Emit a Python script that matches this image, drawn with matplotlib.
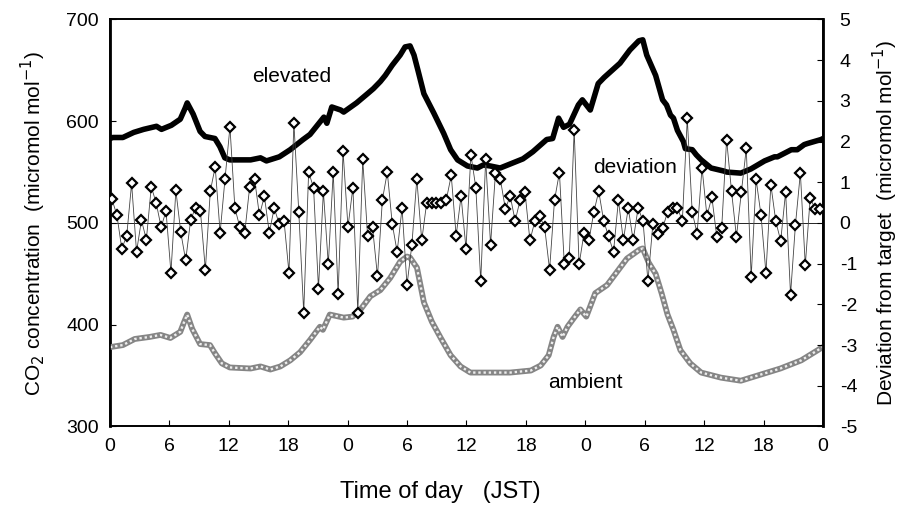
import numpy as np
import matplotlib
matplotlib.use("Agg")
import matplotlib.pyplot as plt

plt.rcParams['font.family'] = ['Liberation Sans', 'DejaVu Sans']
plt.rcParams['axes.unicode_minus'] = False

# Elevated CO2 (ppm) at time (h)
elev_t = [0.0, 0.3, 1.3, 2.4, 3.4, 4.7, 5.2, 6.2, 7.1, 7.6, 7.8, 8.4, 9.1, 9.6, 10.6,
          11.1, 11.6, 12.1, 14.2, 15.2, 15.8, 17.1, 18.2, 19.5, 20.2, 21.6, 21.9,
          22.4, 23.3, 23.6, 24.9, 26.0, 26.6, 27.3, 27.8, 28.5, 29.3, 29.8, 30.3,
          30.7, 31.1, 31.7, 32.7, 33.7, 34.4, 35.1, 36.1, 37.1, 37.7, 38.4, 39.4,
          41.7, 42.7, 44.1, 44.7, 45.3, 45.8, 46.4, 47.3, 47.7, 48.5, 49.3, 49.9,
          51.5, 52.5, 53.4, 53.8, 54.2, 55.1, 55.8, 56.2, 56.6, 56.9, 57.3, 57.9,
          58.1, 58.8, 59.2, 59.7, 60.7, 62.0, 62.3, 63.7, 64.7, 65.4, 66.1, 67.1,
          67.4, 68.8, 69.4, 70.1, 70.4, 71.8, 72.0]
elev_v = [583, 584, 584, 589, 592, 595, 592, 596, 602, 613, 618, 607, 590, 585, 583,
          575, 564, 562, 562, 564, 561, 565, 572, 582, 587, 604, 598,
          614, 611, 609, 618, 627, 632, 639, 645, 655, 665, 673, 674,
          665, 650, 627, 608, 588, 572, 562, 556, 554, 557, 556, 554,
          563, 570, 582, 583, 603, 594, 597, 616, 621, 611, 637, 643,
          657, 670, 679, 680, 665, 645, 621, 616, 606, 603, 591, 580,
          573, 572, 567, 562, 554, 551, 550, 549, 553, 557, 561, 565,
          565, 572, 572, 577, 578, 582, 583]

# Ambient CO2 (ppm) at time (h)
amb_t = [0.0, 1.3, 2.5, 4.0, 5.1, 6.1, 7.1, 7.5, 7.8, 8.3, 9.1, 10.1, 10.6, 11.3,
         12.1, 14.2, 15.2, 16.2, 17.2, 18.2, 19.2, 20.2, 21.2, 21.5, 22.2, 23.6,
         24.5, 25.3, 26.3, 27.3, 28.3, 29.3, 30.0, 30.3, 31.0, 31.7, 32.5, 33.4,
         34.4, 35.4, 36.4, 40.4, 42.5, 43.5, 44.3, 44.8, 45.2, 45.7, 46.2, 46.8,
         47.5, 48.1, 49.0, 50.2, 51.2, 52.2, 53.5, 53.8, 54.4, 55.1, 55.7, 56.3,
         56.9, 57.6, 58.6, 59.7, 61.7, 63.7, 65.7, 67.7, 69.8, 71.8, 72.0]
amb_v = [378, 380, 386, 388, 390, 387, 393, 403, 410, 396, 381, 380, 372, 362,
         358, 357, 359, 356, 359, 365, 373, 385, 398, 395, 410, 407,
         408, 415, 428, 434, 446, 462, 467, 466, 456, 422, 403, 387,
         370, 359, 353, 353, 355, 360, 370, 388, 398, 388, 398, 406,
         415, 408, 431, 439, 452, 465, 474, 475, 461, 450, 431, 410,
         395, 375, 362, 353, 348, 345, 351, 357, 365, 377, 378]

# Half-hourly deviation of elevated CO2 from its target (ppm)
dev_v = [0.58, 0.20, -0.63, -0.32, 0.97, -0.71, 0.07, -0.41, 0.89, 0.49, -0.10, 0.29,
         -1.22, 0.80, -0.23, -0.92, 0.07, 0.38, 0.29, -1.15, 0.78, 1.38, -0.24, 1.09,
         2.36, 0.37, -0.10, -0.25, 0.88, 1.08, 0.19, 0.66, -0.24, 0.37, -0.02, 0.05,
         -1.22, 2.46, 0.27, -2.20, 1.25, 0.87, -1.61, 0.78, -1.02, 1.25, -1.75, 1.76,
         -0.10, 0.87, -2.20, 1.56, -0.33, -0.11, -1.31, 0.57, 1.25, -0.02, -0.71, 0.37,
         -1.53, -0.53, 1.08, -0.43, 0.49, 0.48, 0.48, 0.48, 0.57, 1.17, -0.31, 0.66,
         -0.63, 1.68, 0.87, -1.43, 1.56, -0.53, 1.24, 1.07, 0.35, 0.66, 0.05, 0.56,
         0.76, -0.43, 0.04, 0.17, -0.11, -1.15, 0.56, 1.24, -1.02, -0.86, 2.28, -1.02,
         -0.25, -0.43, 0.27, 0.78, 0.05, -0.33, -0.71, 0.56, -0.43, 0.37, -0.43, 0.37,
         0.05, -1.43, -0.03, -0.26, -0.12, 0.27, 0.37, 0.37, 0.05, 2.57, 0.27, -0.26,
         1.36, 0.17, 0.64, -0.34, -0.12, 2.05, 0.78, -0.34, 0.76, 1.83, -1.33, 1.07,
         0.19, -1.23, 0.94, 0.04, -0.44, 0.76, -1.76, -0.04, 1.23, -1.04, 0.62, 0.34,
         0.34]
dev_t = np.linspace(0.2, 71.7, len(dev_v))

xtick_pos = list(range(0, 73, 6))
xtick_lab = ['0', '6', '12', '18'] * 3 + ['0']

fig = plt.figure(figsize=(9.08, 5.12), dpi=100)
ax = fig.add_axes([0.1211, 0.167, 0.7853, 0.795])
ax2 = ax.twinx()

# CO2 traces
ax.plot(elev_t, elev_v, color='black', lw=4.0, solid_joinstyle='round', zorder=3)
ax.plot(amb_t, amb_v, color='#858585', lw=4.2, solid_joinstyle='round', zorder=3)
ax.plot(amb_t, amb_v, color='#ededed', lw=1.7, linestyle=(0, (1, 1.2)), zorder=4)

# Deviation trace
ax2.axhline(0, color='black', lw=0.6, zorder=1)
ax2.plot(dev_t, dev_v, color='#444444', lw=0.6, marker='D', ms=5.2,
         mfc='white', mec='black', mew=1.6, zorder=5)

ax.set_xlim(0, 72)
ax.set_ylim(300, 700)
ax2.set_ylim(-5, 5)
ax.set_xticks(xtick_pos)
ax.set_xticklabels(xtick_lab)
ax.set_yticks([300, 400, 500, 600, 700])
ax2.set_yticks(range(-5, 6))

ax.tick_params(axis='both', direction='in', length=4, labelsize=14, pad=8)
ax2.tick_params(axis='y', direction='in', length=4, labelsize=14, pad=12)
for a in (ax, ax2):
    for s in a.spines.values():
        s.set_linewidth(1.2)
ax.spines['left'].set_linewidth(2.0)
ax2.spines['right'].set_linewidth(2.0)

ax.set_xlabel('Time of day   (JST)', fontsize=17)
ax.xaxis.set_label_coords(0.463, -0.135)
ax.set_ylabel('CO$_2$ concentration  (micromol mol$^{\\mathsf{-1}}$)', fontsize=15, labelpad=13)
ax2.set_ylabel('Deviation from target  (micromol mol$^{\\mathsf{-1}}$)', fontsize=15, labelpad=10)

ax.text(18.3, 644, 'elevated', fontsize=15, ha='center', va='center')
ax.text(53.0, 555, 'deviation', fontsize=15, ha='center', va='center', zorder=6)
ax.text(48.0, 343, 'ambient', fontsize=15, ha='center', va='center')

fig.savefig('out.png', dpi=100)
